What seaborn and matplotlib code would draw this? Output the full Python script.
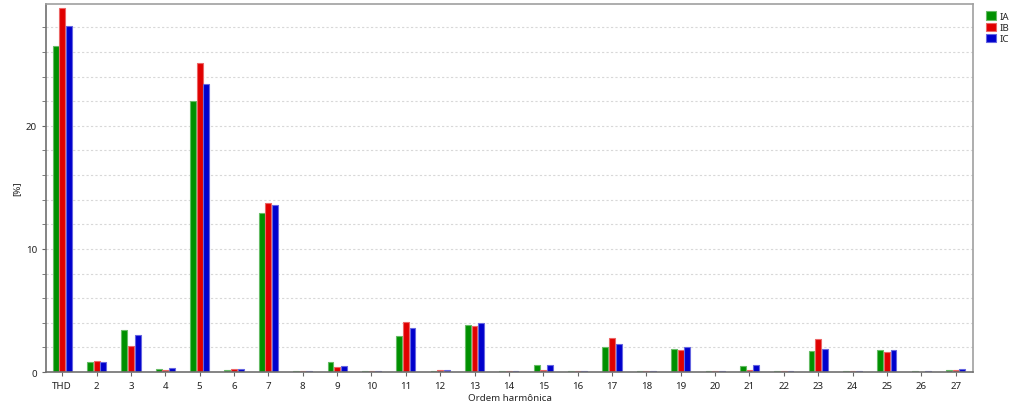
import pandas as pd
import seaborn as sns
import matplotlib.pyplot as plt
from matplotlib.ticker import MultipleLocator

orders = ['THD'] + [str(i) for i in range(2, 28)]
ia = [26.5, 0.8, 3.4, 0.25, 22.0, 0.2, 12.9, 0.12, 0.85, 0.12, 2.95, 0.12, 3.8, 0.12,
      0.6, 0.12, 2.0, 0.12, 1.85, 0.12, 0.5, 0.12, 1.7, 0.12, 1.8, 0.12, 0.18]
ib = [29.6, 0.9, 2.1, 0.2, 25.1, 0.25, 13.7, 0.12, 0.4, 0.12, 4.1, 0.15, 3.75, 0.12,
      0.18, 0.12, 2.8, 0.12, 1.8, 0.12, 0.18, 0.12, 2.65, 0.12, 1.6, 0.0, 0.18]
ic = [28.1, 0.8, 3.05, 0.3, 23.4, 0.25, 13.6, 0.12, 0.5, 0.12, 3.6, 0.15, 3.95, 0.12,
      0.55, 0.12, 2.25, 0.12, 2.0, 0.12, 0.55, 0.12, 1.9, 0.12, 1.8, 0.12, 0.25]
series = ['IA', 'IB', 'IC']
colors = ['#009000', '#e00000', '#0000cc']


def main():
	df = pd.DataFrame({'ordem': orders * 3,
		'valor': ia + ib + ic,
		'fase': [s for s in series for _ in orders]})

	sns.set_style('white')
	plt.rcParams['font.family'] = ['Noto Sans', 'DejaVu Sans']

	fig = plt.figure(figsize=(10.24, 4.1), dpi=100)
	ax = fig.add_axes([0.045, 0.09, 0.905, 0.898])

	sns.barplot(data=df, x='ordem', y='valor', hue='fase', order=orders,
		hue_order=series, palette=colors, saturation=1, width=0.58, gap=0.12,
		linewidth=0.8, edgecolor='#ffffff', ax=ax)
	# lighter outline around each bar
	for patch in ax.patches:
		fc = patch.get_facecolor()
		patch.set_edgecolor((fc[0] * 0.6 + 0.4, fc[1] * 0.6 + 0.4, fc[2] * 0.6 + 0.4, 1))

	ax.set_xlim(-0.47, 26.5)
	ax.set_ylim(0, 29.9)
	ax.yaxis.set_major_locator(MultipleLocator(10))
	ax.yaxis.set_minor_locator(MultipleLocator(2))
	ax.grid(which='both', axis='y', color='#d8d8d8', linestyle=(0, (2, 2)), linewidth=0.8)
	ax.set_axisbelow(True)
	ax.tick_params(axis='both', which='both', labelsize=7, length=3, color='#666666',
		labelcolor='#222222', left=True, bottom=True)

	for side in ['top', 'right']:
		ax.spines[side].set_color('#a0a0a0')
		ax.spines[side].set_linewidth(1.2)
	for side in ['left', 'bottom']:
		ax.spines[side].set_color('#707070')
		ax.spines[side].set_linewidth(1.2)

	ax.set_xlabel('Ordem harmônica', fontsize=7, labelpad=2)
	ax.set_ylabel('[%]', fontsize=7, labelpad=3)

	ax.legend(loc='upper left', bbox_to_anchor=(1.01, 0.99), frameon=False,
		fontsize=7, handlelength=1.0, handleheight=1.0, handletextpad=0.4,
		labelspacing=0.15, borderaxespad=0)

	plt.savefig('out.png', dpi=100)


if __name__ == '__main__':
	main()
